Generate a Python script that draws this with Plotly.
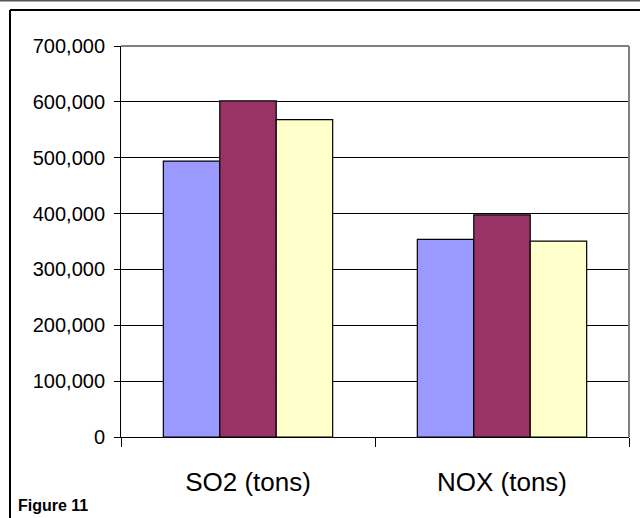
import plotly.graph_objects as go

categories = ["SO2 (tons)", "NOX (tons)"]
series_names = ["Series 1", "Series 2", "Series 3"]
series_a = [494000, 353700]
series_b = [601600, 397700]
series_c = [568300, 350600]
colors = ["#9999FF", "#993366", "#FFFFCC"]
y_ticks = [0, 100000, 200000, 300000, 400000, 500000, 600000, 700000]

W, H = 640, 518
L, R, T, B = 121, 629, 46, 437

def px_x(px):
    return (px - L) / (R - L)

def px_y(py):
    return (B - py) / (B - T)

font_family = "Arial, 'Liberation Sans', sans-serif"

fig = go.Figure()
for name, vals, col in zip(series_names, [series_a, series_b, series_c], colors):
    fig.add_trace(go.Bar(
        x=categories, y=vals, name=name,
        marker=dict(color=col, line=dict(color="black", width=1.2)),
        showlegend=False,
    ))

fig.update_layout(
    width=W, height=H,
    margin=dict(l=L, r=W - R, t=T, b=H - B, pad=0),
    paper_bgcolor="white", plot_bgcolor="white",
    barmode="group", bargap=1/3, bargroupgap=0,
    font=dict(family=font_family, color="black"),
    xaxis=dict(
        type="category", tickson="boundaries", ticks="outside", ticklen=9,
        tickcolor="black", tickwidth=1, showline=True, linecolor="black",
        linewidth=1, showgrid=False, tickfont=dict(size=26),
        ticklabelstandoff=22,
    ),
    yaxis=dict(
        range=[0, 700000], tickvals=y_ticks, tickformat=",",
        ticks="outside", ticklen=6, tickcolor="black", tickwidth=1,
        showline=True, linecolor="black", linewidth=1,
        showgrid=True, gridcolor="black", gridwidth=1, zeroline=False,
        tickfont=dict(size=20), ticklabelstandoff=5,
    ),
    shapes=[
        dict(type="line", xref="paper", yref="paper", x0=0, x1=1, y0=1, y1=1,
             line=dict(color="#808080", width=2), layer="above"),
        dict(type="line", xref="paper", yref="paper", x0=1, x1=1, y0=0, y1=1,
             line=dict(color="#808080", width=2), layer="above"),
        dict(type="line", xref="paper", yref="paper", x0=px_x(10), x1=px_x(650),
             y0=px_y(10), y1=px_y(10), line=dict(color="black", width=2)),
        dict(type="line", xref="paper", yref="paper", x0=px_x(10), x1=px_x(10),
             y0=px_y(10), y1=px_y(530), line=dict(color="black", width=2)),
        dict(type="line", xref="paper", yref="paper", x0=px_x(-10), x1=px_x(650),
             y0=px_y(0.8), y1=px_y(0.8), line=dict(color="#555555", width=1.5)),
    ],
    annotations=[
        dict(text="<b>Figure 11</b>", xref="paper", yref="paper",
             x=px_x(16), y=px_y(505.5), xanchor="left", yanchor="middle",
             showarrow=False, font=dict(size=16, family=font_family, color="black")),
    ],
)

fig.write_html("out.html", config={"displayModeBar": False},
               post_script="document.body.style.margin='0px';")
